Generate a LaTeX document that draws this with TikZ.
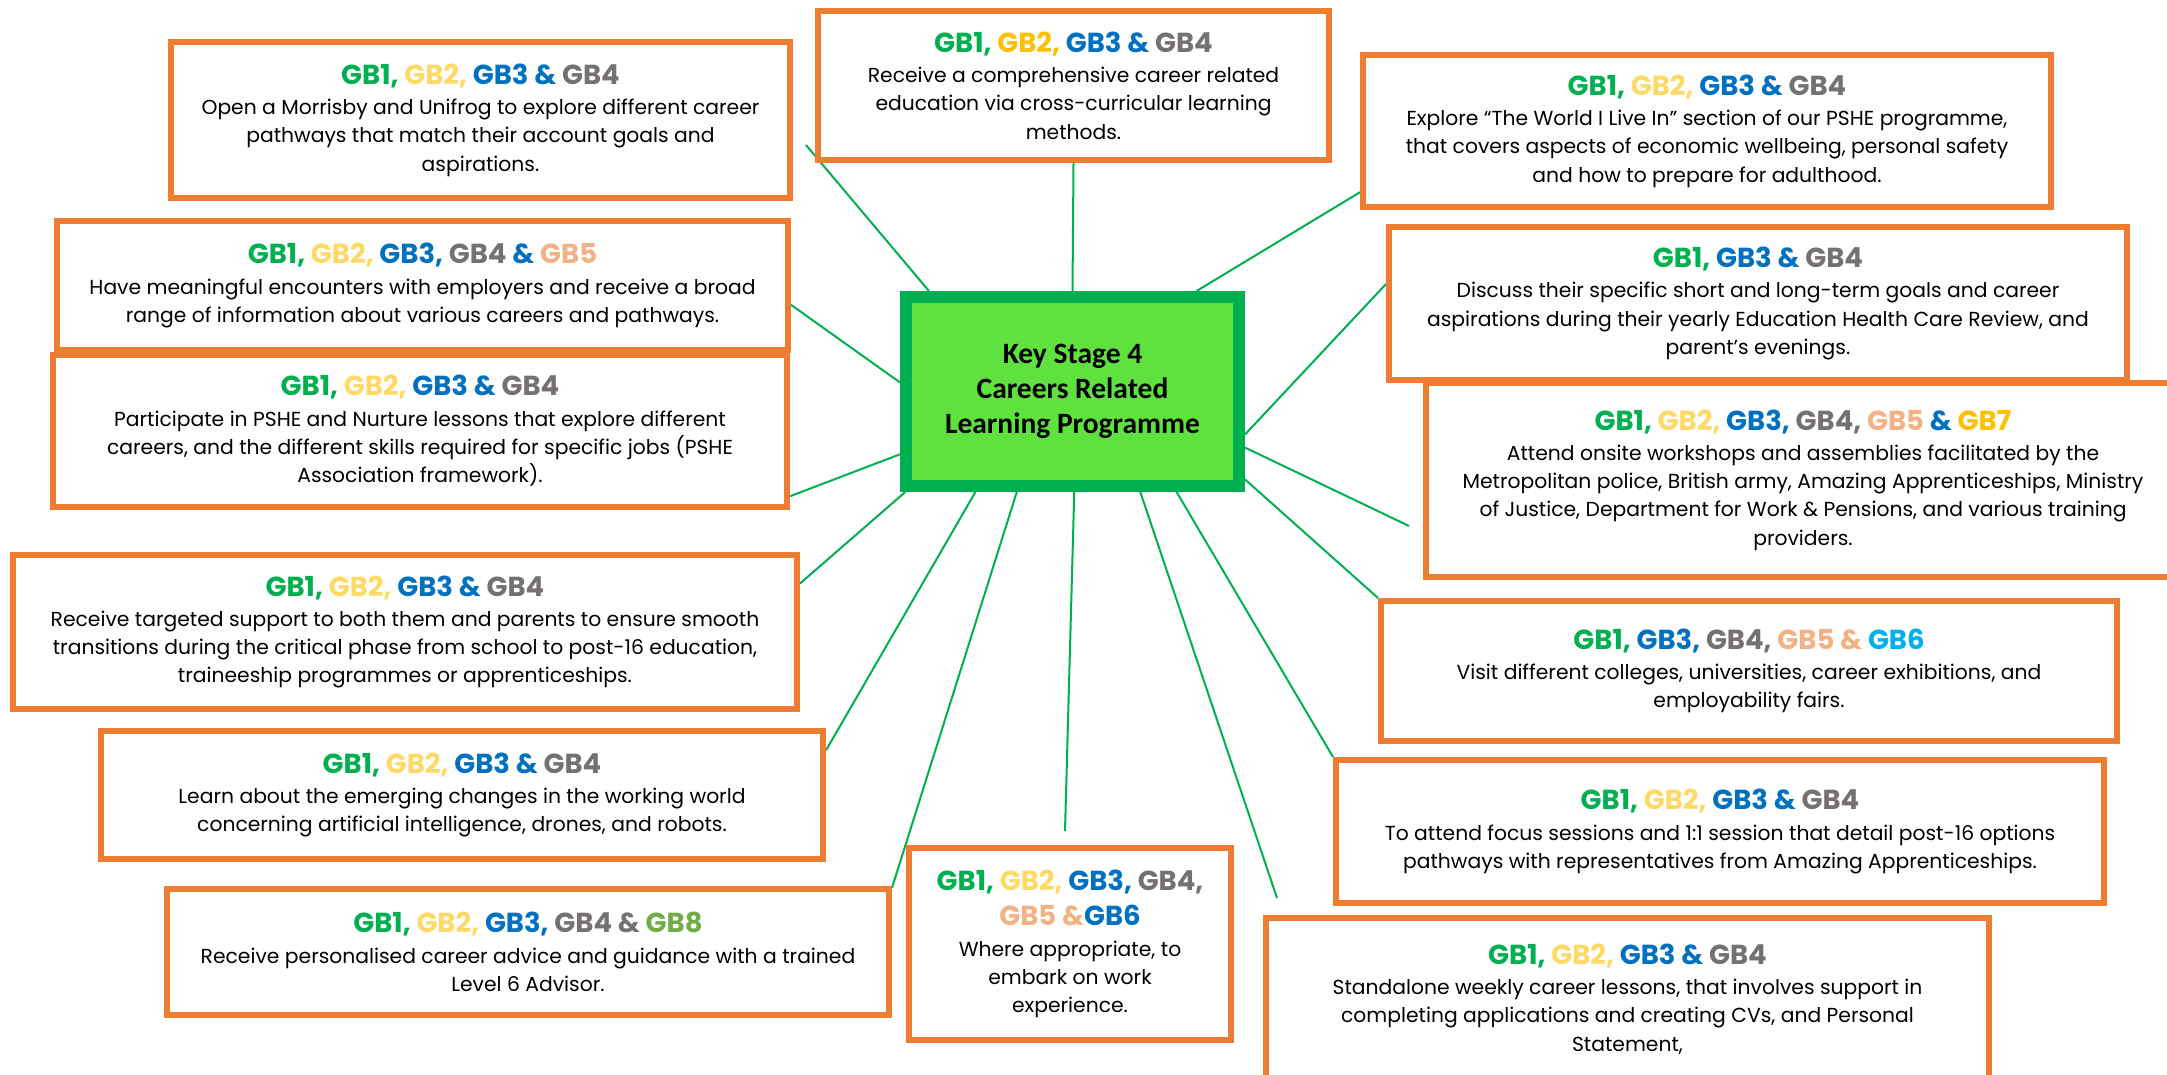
\documentclass[tikz,border=0pt]{standalone}
\usepackage{fontspec}
\setmainfont{Poppins}
\newfontfamily\hubfont{Carlito}
\usetikzlibrary{backgrounds}
\definecolor{boxorange}{HTML}{ED7D31}
\definecolor{hubgreen}{HTML}{00B050}
\definecolor{hubfill}{HTML}{5FE23D}
\definecolor{gbone}{HTML}{00B050}
\definecolor{gbtwo}{HTML}{FFD966}
\definecolor{gbgold}{HTML}{FFC000}
\definecolor{gbthree}{HTML}{0070C0}
\definecolor{gbfour}{HTML}{767171}
\definecolor{gbfive}{HTML}{F4B183}
\definecolor{gbsix}{HTML}{00B0F0}
\definecolor{gbeight}{HTML}{70AD47}
\newcommand{\gb}[2]{\textcolor{#1}{#2}}
\newcommand{\gbhead}[1]{{\fontsize{27.5}{30}\selectfont\bfseries #1}\\[2pt]}
\newcommand{\gbstd}{\gbhead{\gb{gbone}{GB1,} \gb{gbtwo}{GB2,} \gb{gbthree}{GB3 \&} \gb{gbfour}{GB4}}}
\tikzset{
  card/.style={draw=boxorange, line width=6pt, fill=white, align=center,
    inner sep=0pt, font=\fontsize{20.3}{28.3}\selectfont},
  hub/.style={draw=hubgreen, line width=12pt, fill=hubfill, align=center,
    font=\hubfont\bfseries\fontsize{29.5}{35}\selectfont},
  link/.style={hubgreen, line width=2pt}
}
\begin{document}
\begin{tikzpicture}[x=1pt, y=-1pt]
		\useasboundingbox (0,0) rectangle (2167,1074);
		
		\node (hub) at (1072.5,391.5) [hub, minimum width=333pt, minimum height=189pt]
			{Key Stage 4\\Careers Related\\Learning Programme};
		
		\node (morrisby) at (480.5,120) [card, minimum width=619pt, minimum height=156pt]
			{\gbstd Open a Morrisby and Unifrog to explore different career\\
			pathways that match their account goals and\\aspirations.};
		\node (encounters) at (422.5,285.5) [card, minimum width=731pt, minimum height=129pt]
			{\gbhead{\gb{gbone}{GB1,} \gb{gbtwo}{GB2,} \gb{gbthree}{GB3,} \gb{gbfour}{GB4} \gb{gbthree}{\&} \gb{gbfive}{GB5}}
			Have meaningful encounters with employers and receive a broad\\
			range of information about various careers and pathways.};
		\node (pshe) at (420,431) [card, minimum width=734pt, minimum height=152pt]
			{\gbstd Participate in PSHE and Nurture lessons that explore different\\
			careers, and the different skills required for specific jobs (PSHE\\
			Association framework).};
		\node (crosscurric) at (1073.5,85.5) [card, minimum width=511pt, minimum height=149pt]
			{\gbhead{\gb{gbone}{GB1,} \gb{gbgold}{GB2,} \gb{gbthree}{GB3 \&} \gb{gbfour}{GB4}}
			Receive a comprehensive career related\\
			education via cross-curricular learning\\methods.};
		\node (worldlive) at (1707,131) [card, minimum width=688pt, minimum height=152pt]
			{\gbstd Explore “The World I Live In” section of our PSHE programme,\\
			that covers aspects of economic wellbeing, personal safety\\
			and how to prepare for adulthood.};
		\node (ehcr) at (1758,303.5) [card, minimum width=738pt, minimum height=153pt]
			{\gbhead{\gb{gbone}{GB1,} \gb{gbthree}{GB3 \&} \gb{gbfour}{GB4}}
			Discuss their specific short and long-term goals and career\\
			aspirations during their yearly Education Health Care Review, and\\
			parent’s evenings.};
		\node (workshops) at (1803,480) [card, minimum width=754pt, minimum height=194pt]
			{\gbhead{\gb{gbone}{GB1,} \gb{gbtwo}{GB2,} \gb{gbthree}{GB3,} \gb{gbfour}{GB4,} \gb{gbfive}{GB5} \gb{gbthree}{\&} \gb{gbgold}{GB7}}
			Attend onsite workshops and assemblies facilitated by the\\
			Metropolitan police, British army, Amazing Apprenticeships, Ministry\\
			of Justice, Department for Work \& Pensions, and various training\\
			providers.};
		\node (visits) at (1749,671) [card, minimum width=736pt, minimum height=140pt]
			{\gbhead{\gb{gbone}{GB1,} \gb{gbthree}{GB3,} \gb{gbfour}{GB4,} \gb{gbfive}{GB5 \&} \gb{gbsix}{GB6}}
			Visit different colleges, universities, career exhibitions, and\\
			employability fairs.};
		\node (focus) at (1720,831.5) [card, minimum width=768pt, minimum height=143pt]
			{\gbstd To attend focus sessions and 1:1 session that detail post-16 options\\
			pathways with representatives from Amazing Apprenticeships.};
		\node (weekly) at (1627.5,999) [card, minimum width=723pt, minimum height=162pt]
			{\gbstd Standalone weekly career lessons, that involves support in\\
			completing applications and creating CVs, and Personal\\
			Statement,};
		\node (transitions) at (405,632) [card, minimum width=784pt, minimum height=154pt]
			{\gbstd Receive targeted support to both them and parents to ensure smooth\\
			transitions during the critical phase from school to post-16 education,\\
			traineeship programmes or apprenticeships.};
		\node (future) at (462,795) [card, minimum width=722pt, minimum height=128pt]
			{\gbstd Learn about the emerging changes in the working world\\
			concerning artificial intelligence, drones, and robots.};
		\node (advisor) at (528,952) [card, minimum width=722pt, minimum height=126pt]
			{\gbhead{\gb{gbone}{GB1,} \gb{gbtwo}{GB2,} \gb{gbthree}{GB3,} \gb{gbfour}{GB4 \&} \gb{gbeight}{GB8}}
			Receive personalised career advice and guidance with a trained\\
			Level 6 Advisor.};
		\node (workexp) at (1070,944) [card, minimum width=322pt, minimum height=192pt]
			{{\fontsize{27.5}{30}\selectfont\bfseries \gb{gbone}{GB1,} \gb{gbtwo}{GB2,} \gb{gbthree}{GB3,} \gb{gbfour}{GB4,}}\\[7pt]
			\gbhead{\gb{gbfive}{GB5 \&}\gb{gbthree}{GB6}}
			Where appropriate, to\\embark on work\\experience.};
		
		\coordinate (endA) at (806,145);
		\coordinate (endG) at (1409,526);
		\coordinate (endN) at (1277,898);
		\coordinate (endL) at (1065,831);
		
		\begin{scope}[on background layer]
		\draw [link] (hub.145) -- (endA);
		\draw [link] (hub.north) -- (crosscurric.south);
		\draw [link] (hub.39.3) -- (worldlive.190);
		\draw [link] (hub.346) -- (ehcr.177);
		\draw [link] (hub.342) -- (endG);
		\draw [link] (hub.333.4) -- (visits.north west);
		\draw [link] (hub.316.8) -- (focus.north west);
		\draw [link] (hub.304.7) -- (endN);
		\draw [link] (hub.271.5) -- (endL);
		\draw [link] (hub.241.9) -- (advisor.10.6);
		\draw [link] (hub.226.1) -- (future.7);
		\draw [link] (hub.211) -- (transitions.7.1);
		\draw [link] (hub.200.7) -- (pshe.350);
		\draw [link] (hub.177.4) -- (encounters.357.1);
		\end{scope}
		\end{tikzpicture}
\end{document}
